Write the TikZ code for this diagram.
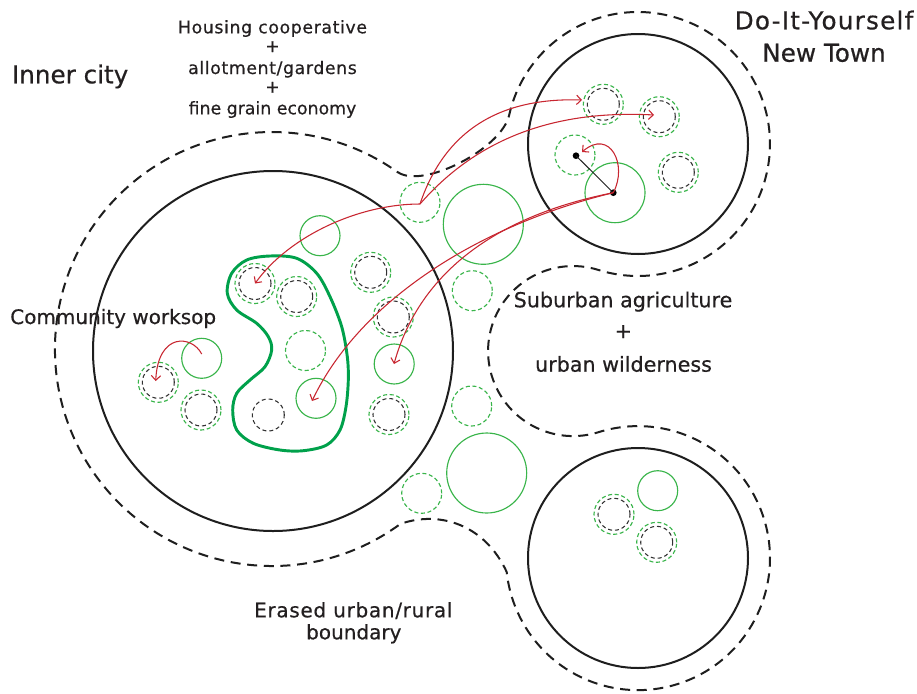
\documentclass[tikz,border=0pt]{standalone}
\usepackage{fontspec}
\setmainfont{DejaVu Sans}[FakeBold=0.5]
\newfontfamily\spacedfont{DejaVu Sans}[LetterSpace=3.5,FakeBold=0.5]
\newfontfamily\widefont{DejaVu Sans}[LetterSpace=5,FakeBold=0.5]
\usetikzlibrary{arrows.meta}
\definecolor{gcol}{RGB}{57,181,74}
\definecolor{blobcol}{RGB}{0,161,75}
\definecolor{rcol}{RGB}{200,38,48}
\definecolor{tcol}{RGB}{35,31,32}
\definecolor{dcol}{RGB}{50,50,50}
\definecolor{kcol}{RGB}{30,30,30}
\begin{document}
\begin{tikzpicture}[x=0.75pt,y=-0.75pt,
 gs/.style={circle,draw=gcol,line width=0.85pt,inner sep=0pt,minimum size=30pt},
 gd/.style={circle,draw=gcol,line width=0.85pt,dash pattern=on 3pt off 2pt,inner sep=0pt,minimum size=30pt},
 bd/.style={circle,draw=dcol,line width=0.8pt,dash pattern=on 3pt off 2.2pt,inner sep=0pt,minimum size=24pt},
 bigc/.style={circle,draw=kcol,line width=1.5pt,inner sep=0pt},
 bnd/.style={draw=kcol,line width=1.5pt,dash pattern=on 7.5pt off 5pt},
 blob/.style={draw=blobcol,line width=2.2pt},
 rarr/.style={draw=rcol,line width=0.8pt,-{Straight Barb[length=3.5pt,width=7pt]}},
 dotn/.style={circle,fill=black,inner sep=0pt,minimum size=5pt},
 lbl/.style={text=tcol,inner sep=0pt},
]
\useasboundingbox (0,0) rectangle (917,693);
\fill[white] (0,0) rectangle (917,693);

% outer erased boundary
\draw[bnd] (397.7,172.1) .. controls (422.5,189.4) and (501.5,149.2) .. (509.2,115)
  arc[start angle=192.7, end angle=467.4, radius=132]
  arc[start angle=-72.6, end angle=-287.4, radius=85]
  arc[start angle=252.6, end angle=534, radius=132]
  .. controls (485,525) and (440,510) .. (400.4,523.9)
  arc[start angle=53.7, end angle=305.4, radius=217] -- cycle;

% big circles
\node[bigc,minimum size=270pt] (inner) at (273,351) {};
\node[bigc,minimum size=165pt] (diy) at (638,144) {};
\node[bigc,minimum size=165pt] (btown) at (638,558) {};

% green blob
\draw[blob] plot[smooth cycle, tension=0.55] coordinates {
 (270,256) (296.7,258.3) (316.7,273.3) (330,296.7) (341.7,326.7) (347.3,356.7)
 (348.3,380) (346,406.7) (340,430) (326.7,445) (303.3,450.7) (280,450)
 (253.3,443.3) (236.7,430) (232.7,410) (236.7,393.3) (250,380) (265,366.7)
 (271.7,350) (268.3,336.7) (256.7,323.3) (236.7,310) (227.3,293.3)
 (231.7,273.3) (246.7,260)};

% inner city small circles
\node[gs] (c1) at (320,235.7) {};
\node[gd] (c2) at (255,283.5) {}; \node[bd] (c2i) at (255,283.5) {};
\node[gd] (c3) at (296.7,296.5) {}; \node[bd] (c3i) at (296.7,296.5) {};
\node[gd] (c4) at (370.7,272.3) {}; \node[bd] (c4i) at (370.7,272.3) {};
\node[gd] (c5) at (393.3,317) {}; \node[bd] (c5i) at (393.3,317) {};
\node[gd] (c6) at (305.5,350.5) {};
\node[gs] (c7) at (316,398.3) {};
\node[bd] (c8) at (268.3,415) {};
\node[gs] (c9) at (394.2,364) {};
\node[gd] (c10) at (389,414.5) {}; \node[bd] (c10i) at (389,414.5) {};
\node[gs] (c11) at (201.7,358.3) {};
\node[gd] (c12) at (158.3,382.3) {}; \node[bd] (c12i) at (158.3,382.3) {};
\node[gd] (c13) at (201,410) {}; \node[bd] (c13i) at (201,410) {};

% corridor circles
\node[gd] (c14) at (420,202.3) {};
\node[gs,minimum size=60pt] (c15) at (483.3,224.3) {};
\node[gd] (c16) at (472.3,290.7) {};
\node[gd] (c17) at (471.7,406) {};
\node[gs,minimum size=60pt] (c18) at (486.7,473) {};
\node[gd] (c19) at (421.7,493.3) {};

% DIY new town circles
\node[gd] (c20) at (603.3,104.3) {}; \node[bd] (c20i) at (603.3,104.3) {};
\node[gd] (c21) at (659.3,116.7) {}; \node[bd] (c21i) at (659.3,116.7) {};
\node[gd] (c22) at (678.3,172.3) {}; \node[bd] (c22i) at (678.3,172.3) {};
\node[gd] (c23) at (575,155) {};
\node[gs,minimum size=45pt] (c24) at (615,192.7) {};

% bottom town circles
\node[gs] (c25) at (657.7,490.7) {};
\node[gd] (c26) at (614,514.3) {}; \node[bd] (c26i) at (614,514.3) {};
\node[gd] (c27) at (656.7,542.3) {}; \node[bd] (c27i) at (656.7,542.3) {};

% dots and link
\node[dotn] (d1) at (576,155.7) {};
\node[dotn] (d2) at (613.3,192.7) {};
\draw[kcol,line width=0.7pt] (d1.center) -- (d2.center);

% red connectors
\coordinate (J) at (420,204);
\coordinate (tA) at (582,100);
\coordinate (tB) at (654,115);
\coordinate (t4) at (312,401);
\coordinate (t5) at (394,364);
\coordinate (t6) at (582,152);
\coordinate (s7) at (201.7,354);
\coordinate (t7) at (155.7,381);
\draw[rarr] (J) .. controls (360,204) and (290,235) .. (c2.center);
\draw[rarr] (J) .. controls (450,115) and (520,98) .. (tA);
\draw[rarr] (J) .. controls (480,135) and (560,110) .. (tB);
\draw[rarr] (d2.center) .. controls (480,225) and (360,300) .. (t4);
\draw[rarr] (d2.center) .. controls (500,215) and (420,270) .. (t5);
\draw[rarr] (d2.center) .. controls (628,165) and (610,128) .. (t6);
\draw[rarr] (s7) .. controls (192,335) and (158,332) .. (t7);

% labels
\node[lbl,anchor=base west,font=\fontsize{18.5}{20}\selectfont] (linner) at (11.7,83.3) {Inner city};
\node[lbl,anchor=base,font=\widefont\fontsize{18.5}{20}\selectfont] (ldiy1) at (824,29.3) {Do-It-Yourself};
\node[lbl,anchor=base,font=\fontsize{18.5}{20}\selectfont] (ldiy2) at (824,61.7) {New Town};
\node[lbl,anchor=base,font=\spacedfont\fontsize{13}{15}\selectfont] (lh1) at (272.5,33.3) {Housing cooperative};
\node[lbl,anchor=center,font=\fontsize{13}{15}\selectfont] (lh2) at (272.5,46.7) {+};
\node[lbl,anchor=base,font=\spacedfont\fontsize{13}{15}\selectfont] (lh3) at (272.5,74) {allotment/gardens};
\node[lbl,anchor=center,font=\fontsize{13}{15}\selectfont] (lh4) at (272.5,87.3) {+};
\node[lbl,anchor=base,font=\fontsize{13}{15}\selectfont] (lh5) at (272.5,114.3) {fine grain economy};
\node[lbl,anchor=base,font=\fontsize{15.5}{17}\selectfont] (ls1) at (623,307.3) {Suburban agriculture};
\node[lbl,anchor=center,font=\fontsize{15.5}{17}\selectfont] (ls2) at (623.3,331.7) {+};
\node[lbl,anchor=base,font=\fontsize{15.5}{17}\selectfont] (ls3) at (623.5,371.7) {urban wilderness};
\node[lbl,anchor=base west,font=\fontsize{15}{17}\selectfont] (lcw) at (10,324) {Community worksop};
\node[lbl,anchor=base,font=\spacedfont\fontsize{15}{17}\selectfont] (le1) at (353.3,617.3) {Erased urban/rural};
\node[lbl,anchor=base,font=\fontsize{15}{17}\selectfont] (le2) at (353.8,639.3) {boundary};
\end{tikzpicture}
\end{document}
